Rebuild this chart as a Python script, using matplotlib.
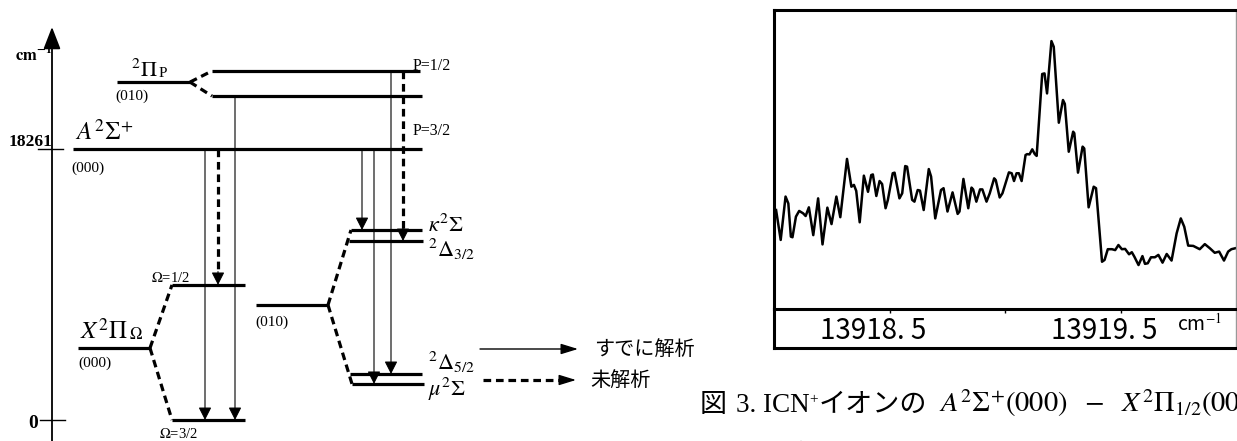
import matplotlib
matplotlib.use("Agg")
import matplotlib.pyplot as plt
from matplotlib.transforms import ScaledTranslation

plt.rcParams['mathtext.fontset'] = 'stix'
plt.rcParams['font.family'] = ['Liberation Serif', 'Noto Sans CJK JP']

W, H = 1237, 441

# ---- energy levels (cm^-1, schematic) ----
level_names = ['Pi_P', 'P12', 'P32', 'A', 'X000', 'O12', 'O32',
               'X010', 'kappa', 'D32', 'D52', 'mu']
level_energy = [22770, 23520, 21830, 18261, 4850, 9100, 0,
                7750, 12800, 12060, 3100, 2430]
axis_ticks = [0, 18261]

# transitions: upper level, lower level, analysed (solid) or not (dashed)
trans_upper = ['A', 'A', 'P32', 'A', 'A', 'P12', 'P12']
trans_lower = ['O32', 'O12', 'O32', 'kappa', 'mu', 'D52', 'D32']
trans_done = [True, False, True, True, True, True, False]

# ---- spectrum near the band head ----
wavenumber = [
    13918.009, 13918.029, 13918.050, 13918.062, 13918.073, 13918.080, 13918.095,
    13918.109, 13918.126, 13918.137, 13918.151, 13918.170, 13918.191, 13918.210,
    13918.231, 13918.249, 13918.270, 13918.287, 13918.316, 13918.335, 13918.346,
    13918.356, 13918.371, 13918.389, 13918.407, 13918.421, 13918.428, 13918.443,
    13918.457, 13918.468, 13918.483, 13918.493, 13918.514, 13918.522, 13918.543,
    13918.555, 13918.568, 13918.576, 13918.598, 13918.608, 13918.622, 13918.632,
    13918.648, 13918.670, 13918.680, 13918.698, 13918.723, 13918.734, 13918.751,
    13918.773, 13918.795, 13918.803, 13918.820, 13918.841, 13918.855, 13918.862,
    13918.876, 13918.892, 13918.902, 13918.920, 13918.934, 13918.953, 13918.960,
    13918.977, 13918.989, 13919.017, 13919.029, 13919.039, 13919.050, 13919.060,
    13919.072, 13919.089, 13919.096, 13919.106, 13919.118, 13919.129, 13919.137,
    13919.161, 13919.171, 13919.182, 13919.201, 13919.211, 13919.233, 13919.251,
    13919.259, 13919.276, 13919.295, 13919.300, 13919.316, 13919.336, 13919.343,
    13919.362, 13919.384, 13919.394, 13919.420, 13919.431, 13919.445, 13919.463,
    13919.477, 13919.491, 13919.506, 13919.520, 13919.537, 13919.549, 13919.560,
    13919.578, 13919.595, 13919.606, 13919.618, 13919.632, 13919.649, 13919.664,
    13919.682, 13919.700, 13919.721, 13919.743, 13919.761, 13919.776, 13919.793,
    13919.815, 13919.843, 13919.865, 13919.887, 13919.908, 13919.927, 13919.948,
    13919.966, 13919.980, 13919.996]
intensity = [
    33.1, 23.1, 37.6, 35.3, 24.2, 24.0, 30.9, 32.8, 32.0, 31.1, 34.0, 24.7, 37.0,
    21.6, 33.9, 28.4, 37.6, 30.7, 50.2, 40.9, 41.5, 39.5, 29.0, 44.6, 39.2, 44.8,
    45.0, 37.8, 42.8, 41.8, 33.7, 36.5, 45.4, 45.6, 37.0, 38.7, 47.8, 47.6, 36.5,
    35.9, 39.8, 39.6, 33.1, 46.8, 44.3, 30.3, 39.8, 40.4, 32.6, 39.0, 31.8, 32.6,
    43.5, 33.7, 40.6, 40.0, 35.9, 40.0, 40.0, 35.9, 38.7, 43.7, 43.1, 37.3, 38.7,
    45.7, 45.4, 42.8, 45.4, 45.4, 42.8, 51.5, 51.8, 51.7, 53.4, 51.8, 51.2, 78.6,
    78.8, 72.1, 89.6, 87.7, 62.3, 69.9, 68.6, 52.6, 59.3, 58.8, 45.6, 54.3, 53.7,
    34.0, 40.9, 40.4, 15.8, 16.4, 20.0, 20.0, 19.7, 21.4, 20.0, 20.1, 18.3, 19.0,
    17.5, 14.7, 17.7, 15.1, 15.3, 17.3, 17.3, 18.1, 15.5, 18.4, 16.2, 25.3, 30.3,
    27.5, 21.2, 21.1, 20.0, 21.7, 20.3, 18.8, 19.2, 16.2, 19.2, 20.0, 20.3]
spec_ticks = [13918.5, 13919.0, 13919.5]
spec_ticklabels = ['13918. 5', '', '13919. 5']

fig = plt.figure(figsize=(W / 100, H / 100), dpi=100)

# level diagram drawn in pixel x / cm^-1 y
K = 18261 / 271.0
ax = fig.add_axes([0, 0, 1, 1])
ax.set_xlim(0, W)
ax.set_ylim(-21 * K, 420 * K)
ax.axis('off')


def ey(ypx):
    return (420 - ypx) * K


E = dict(zip(level_names, level_energy))
span = {'Pi_P': (117, 190), 'P12': (212, 420), 'P32': (212, 422),
        'A': (73, 422), 'X000': (78, 150), 'O12': (172, 245),
        'O32': (172, 245), 'X010': (256, 328), 'kappa': (351, 422),
        'D32': (349, 423), 'D52': (350, 422), 'mu': (352, 424)}
trans_x = [205, 218, 235, 362, 374, 391, 403]

LW = 2.3
DASH = (0, (2.4, 1.5))

for name in level_names:
    x0, x1 = span[name]
    ax.plot([x0, x1], [E[name], E[name]], color='k', lw=LW,
            solid_capstyle='butt')

# dashed splitting connectors
for a, b in [('Pi_P', 'P12'), ('Pi_P', 'P32'), ('X000', 'O12'),
             ('X000', 'O32'), ('X010', 'kappa'), ('X010', 'mu')]:
    ax.plot([span[a][1], span[b][0]], [E[a], E[b]], color='k', lw=LW,
            linestyle=DASH)

HEAD = dict(arrowstyle='-|>,head_length=0.55,head_width=0.28',
            mutation_scale=14, color='k', shrinkA=0, shrinkB=0)

for x, up, lo, done in zip(trans_x, trans_upper, trans_lower, trans_done):
    if done:
        ax.annotate('', xy=(x, E[lo]), xytext=(x, E[up]),
                    arrowprops=dict(lw=0.8, **HEAD))
    else:
        ax.plot([x, x], [E[up], E[lo] + 600], color='k', lw=LW,
                linestyle=DASH)
        ax.annotate('', xy=(x, E[lo]), xytext=(x, E[lo] + 900),
                    arrowprops=dict(lw=0.8, **HEAD))

# energy axis
ax.annotate('', xy=(52, ey(27)), xytext=(52, ey(445)),
            arrowprops=dict(arrowstyle='-|>,head_length=0.85,head_width=0.33',
                            mutation_scale=16, lw=1.3, color='k',
                            shrinkA=0, shrinkB=0))
ax.plot([38, 63], [axis_ticks[1]] * 2, color='k', lw=1.0)
ax.plot([40, 65], [axis_ticks[0]] * 2, color='k', lw=1.0)
ax.text(9, ey(146), '18261', fontsize=12.5, fontweight='bold', va='baseline')
ax.text(28, ey(428), '0', fontsize=14, fontweight='bold', va='baseline')
ax.text(15, ey(61), r'$\mathbf{cm^{-1}}$', fontsize=12, va='baseline')

# level labels
ax.text(131, ey(77), r'$^{2}\Pi$', fontsize=16, va='baseline')
ax.text(159, ey(77), 'P', fontsize=11, va='baseline')
ax.text(115, ey(100), '(010)', fontsize=11, va='baseline')
ax.text(413, ey(70), 'P=1/2', fontsize=11.5, va='baseline')
ax.text(413, ey(135), 'P=3/2', fontsize=11.5, va='baseline')
ax.text(75, ey(140), r'$A^{2}\Sigma^{+}$', fontsize=18, va='baseline')
ax.text(71, ey(172), '(000)', fontsize=11, va='baseline')
ax.text(80, ey(339), r'$X^{2}\Pi$', fontsize=18, va='baseline')
ax.text(129, ey(339), r'$\Omega$', fontsize=12, va='baseline')
ax.text(78, ey(367), '(000)', fontsize=11, va='baseline')
ax.text(151, ey(282), r'$\Omega$=1/2', fontsize=10.5, va='baseline')
ax.text(159, ey(438), r'$\Omega$=3/2', fontsize=10.5, va='baseline')
ax.text(255, ey(326), '(010)', fontsize=11, va='baseline')
ax.text(428, ey(232), r'$\kappa^{2}\Sigma$', fontsize=16, va='baseline')
ax.text(428, ey(257), r'$^{2}\Delta_{3/2}$', fontsize=16, va='baseline')
ax.text(428, ey(370), r'$^{2}\Delta_{5/2}$', fontsize=16, va='baseline')
ax.text(428, ey(396), r'$\mu^{2}\Sigma$', fontsize=16, va='baseline')

# legend
LEG_HEAD = dict(arrowstyle='-|>,head_length=0.65,head_width=0.2',
                mutation_scale=16, lw=1.0, color='k', shrinkA=0, shrinkB=0)
ax.annotate('', xy=(578, ey(349)), xytext=(480, ey(349)),
            arrowprops=LEG_HEAD)
ax.plot([483, 566], [ey(380)] * 2, color='k', lw=LW, linestyle=DASH)
ax.annotate('', xy=(576, ey(380)), xytext=(560, ey(380)),
            arrowprops=LEG_HEAD)
ax.text(594, ey(349), 'すでに解析', fontsize=14.5, va='center',
        family='Noto Sans CJK JP')
ax.text(590, ey(380), '未解析', fontsize=14.5, va='center',
        family='Noto Sans CJK JP')

# spectrum panel
strip = fig.add_axes([774 / W, (H - 348) / H, 462 / W, 39 / H])
strip.set_xticks([])
strip.set_yticks([])
for s in ['left', 'bottom']:
    strip.spines[s].set_linewidth(2.2)
strip.spines['top'].set_visible(False)
strip.spines['right'].set_color('#999999')
strip.spines['right'].set_linewidth(1.0)

sp = fig.add_axes([774 / W, (H - 309) / H, 462 / W, 299 / H])
sp.plot(wavenumber, intensity, color='k', lw=1.8)
sp.set_xlim(13918.0, 13920.0)
sp.set_ylim(0, 100)
sp.set_yticks([])
sp.set_xticks(spec_ticks)
sp.set_xticklabels(spec_ticklabels, family='Noto Sans CJK JP', fontsize=20)
sp.tick_params(axis='x', direction='out', length=3, width=1, pad=2)
for lab in sp.get_xticklabels():
    lab.set_transform(lab.get_transform() +
                      ScaledTranslation(-0.16, 0, fig.dpi_scale_trans))
for s in ['left', 'top', 'bottom']:
    sp.spines[s].set_linewidth(2.2)
sp.spines['right'].set_color('#999999')
sp.spines['right'].set_linewidth(1.0)
fig.text(1177 / W, 1 - 331 / H, 'cm$^{-1}$', fontsize=14,
         family='Noto Sans CJK JP', va='baseline')

# caption
renderer = fig.canvas.get_renderer()


def put_runs(x, y, runs):
    for s, dx, dy, kw in runs:
        x += dx
        t = fig.text(x / W, 1 - (y + dy) / H, s, va='baseline', ha='left', **kw)
        x = t.get_window_extent(renderer).x1


cap = dict(fontsize=19.5)
put_runs(700, 412, [
    ('図', 0, 0, cap),
    ('3. ICN', 9, 0, cap),
    ('+', 0, -9, dict(fontsize=11)),
    ('イオンの', 0, 0, cap),
    (r'$A^{2}\Sigma^{+}(000)\ \ -\ \ X^{2}\Pi_{1/2}(000)$', 12, 0,
     dict(fontsize=20.5)),
])
fig.text(703 / W, 1 - 464 / H, '電子遷移のバンドヘッド付近の拡大図', fontsize=19.5,
         va='baseline')

fig.savefig('out.png', dpi=100)
